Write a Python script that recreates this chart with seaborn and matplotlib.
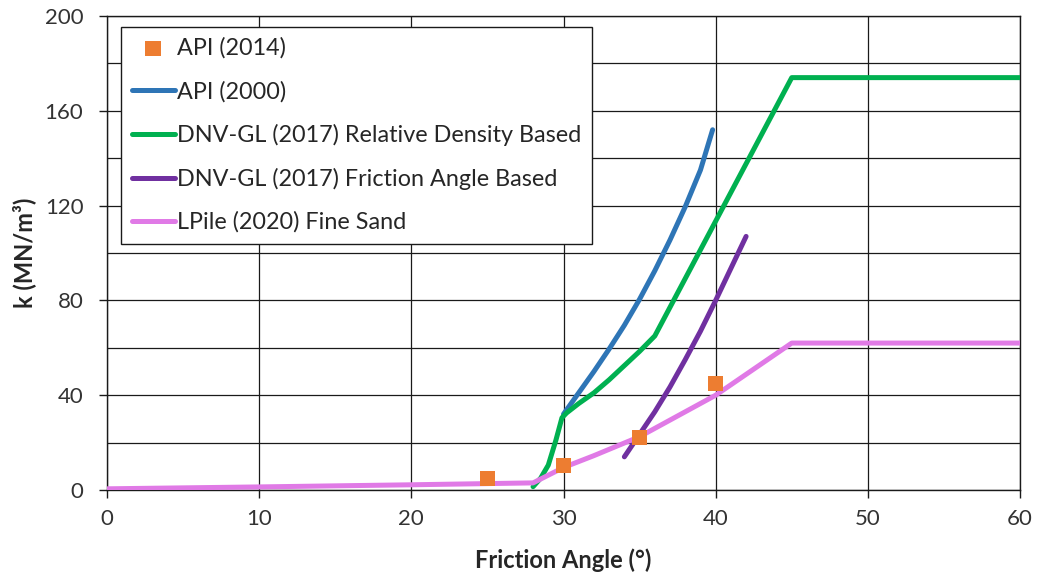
import matplotlib
matplotlib.use("Agg")
import matplotlib.pyplot as plt
import seaborn as sns
import pandas as pd
from matplotlib.ticker import MultipleLocator

# ---- data ----
phi_api2014 = [25, 30, 35, 40]
k_api2014 = [5, 10.5, 22, 45]

phi_api2000 = [30, 31, 32, 33, 34, 35, 36, 37, 38, 39, 39.8]
k_api2000 = [32, 41, 50, 59.5, 69.5, 80.5, 92.5, 105.5, 119.5, 135, 152]

phi_dnv_rd = [28, 28.5, 29, 29.5, 29.9, 30.2, 31, 32, 33, 34, 35, 36, 45, 60]
k_dnv_rd = [1.4, 5, 10.5, 21, 30.5, 32.5, 36.5, 41, 46.5, 52.5, 58.5, 65, 174, 174]

phi_dnv_fa = [34, 35, 36, 37, 38, 39, 40, 41, 42]
k_dnv_fa = [14, 23.5, 33, 43.5, 55, 67, 80, 93.5, 107]

phi_lpile = [0, 10, 20, 28, 30, 32, 35, 40, 45, 60]
k_lpile = [0.5, 1.3, 2.2, 3, 9.5, 14.5, 22.5, 40, 62, 62]

labels = ["API (2014)", "API (2000)", "DNV-GL (2017) Relative Density Based",
          "DNV-GL (2017) Friction Angle Based", "LPile (2020) Fine Sand"]
colors = ["#ED7D31", "#2E75B6", "#00B050", "#7030A0", "#E07AE6"]

x_ticks = [0, 10, 20, 30, 40, 50, 60]
y_ticks = [0, 40, 80, 120, 160, 200]

sns.set_theme(style="white")
plt.rcParams["font.family"] = ["Lato", "DejaVu Sans"]

fig = plt.figure(figsize=(10.42, 5.81), dpi=100)
ax = fig.add_axes([107 / 1042, 1 - 490 / 581, 913 / 1042, 474 / 581])

lw = 3.6
line_series = [
    (phi_api2000, k_api2000, labels[1], colors[1]),
    (phi_dnv_rd, k_dnv_rd, labels[2], colors[2]),
    (phi_dnv_fa, k_dnv_fa, labels[3], colors[3]),
    (phi_lpile, k_lpile, labels[4], colors[4]),
]
for xs, ys, lab, col in line_series:
    df = pd.DataFrame({"phi": xs, "k": ys})
    sns.lineplot(data=df, x="phi", y="k", sort=False, estimator=None, ax=ax,
                 color=col, linewidth=lw, label=lab, zorder=3,
                 solid_capstyle="round", solid_joinstyle="round")

df14 = pd.DataFrame({"phi": phi_api2014, "k": k_api2014})
sns.scatterplot(data=df14, x="phi", y="k", ax=ax, marker="s", s=120,
                color=colors[0], edgecolor="none", linewidth=0, label=labels[0], zorder=4)

ax.set_xlim(0, 60)
ax.set_ylim(0, 200)
ax.set_xticks(x_ticks)
ax.set_yticks(y_ticks)
ax.yaxis.set_minor_locator(MultipleLocator(20))
ax.grid(True, which="both", color="#1a1a1a", linewidth=0.9)
ax.set_axisbelow(True)
for sp in ax.spines.values():
    sp.set_color("#1a1a1a")
    sp.set_linewidth(1.0)

ax.tick_params(axis="both", which="major", direction="out", length=6, width=1,
               color="#1a1a1a", labelsize=16, labelcolor="#333333")
ax.tick_params(axis="y", which="major", pad=11, left=True)
ax.tick_params(axis="x", which="major", pad=8, bottom=True)
ax.tick_params(axis="y", which="minor", length=0)

ax.set_xlabel("Friction Angle (°)", fontsize=17, fontweight="bold", color="#262626", va="center")
ax.set_ylabel("k (MN/m³)", fontsize=17, fontweight="bold", color="#262626", va="center")
ax.xaxis.set_label_coords(0.5, -0.148)
ax.yaxis.set_label_coords(-0.091, 0.5)

h, l = ax.get_legend_handles_labels()
hd = dict(zip(l, h))
leg = ax.legend([hd[x] for x in labels], labels, loc="upper left",
                bbox_to_anchor=(14 / 913, 463 / 474), borderaxespad=0,
                fontsize=16.8, frameon=True, fancybox=False, framealpha=1,
                edgecolor="#1a1a1a", borderpad=0.45, labelspacing=0.93,
                handlelength=1.85, handletextpad=0.1, markerscale=1.0)
leg.get_frame().set_linewidth(1.0)
for t in leg.get_texts():
    t.set_color("#262626")

fig.savefig("out.png", dpi=100)
